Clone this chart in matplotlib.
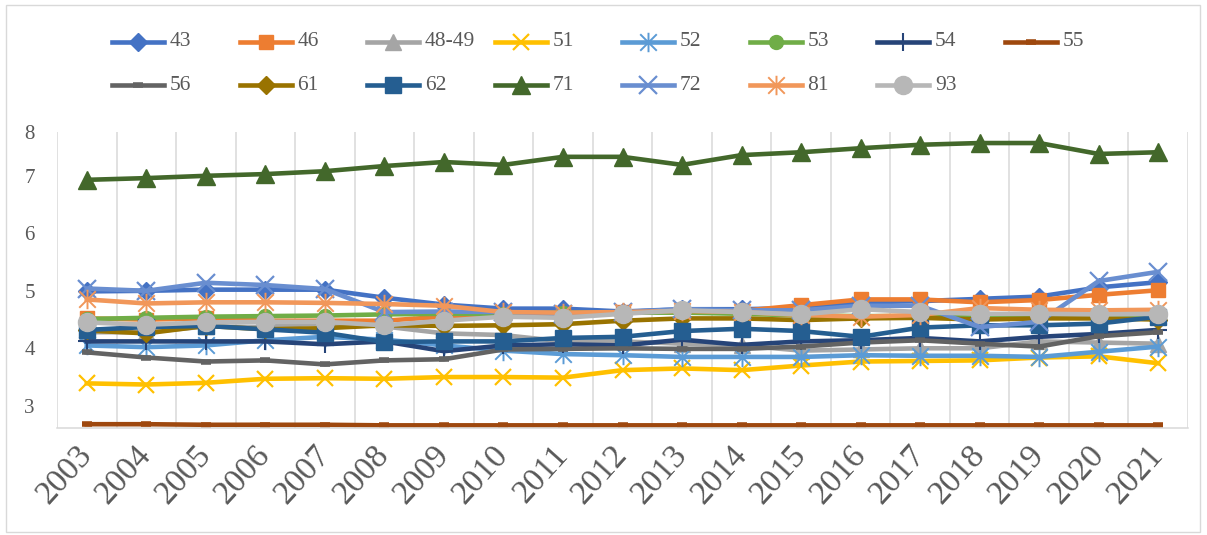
import matplotlib
matplotlib.use("Agg")
import matplotlib.pyplot as plt
from matplotlib.lines import Line2D
from matplotlib.patches import Rectangle
from matplotlib.path import Path

years = list(range(2003, 2022))

s43 = [4.99, 5.00, 5.02, 5.02, 5.02, 4.88, 4.76, 4.69, 4.69, 4.64, 4.68, 4.68, 4.70, 4.80, 4.82, 4.86, 4.90, 5.06, 5.15]
s46 = [4.52, 4.50, 4.52, 4.48, 4.48, 4.48, 4.55, 4.57, 4.60, 4.63, 4.65, 4.65, 4.75, 4.85, 4.85, 4.80, 4.84, 4.93, 5.01]
s48 = [4.28, 4.28, 4.38, 4.37, 4.44, 4.38, 4.26, 4.23, 4.12, 4.12, 4.08, 4.05, 3.96, 3.98, 4.00, 4.00, 4.12, 4.10, 4.08]
s51 = [3.39, 3.37, 3.40, 3.47, 3.48, 3.47, 3.50, 3.50, 3.49, 3.62, 3.65, 3.62, 3.70, 3.77, 3.78, 3.79, 3.84, 3.86, 3.74]
s52 = [4.05, 4.02, 4.05, 4.14, 4.20, 4.15, 4.05, 3.96, 3.90, 3.88, 3.85, 3.85, 3.85, 3.88, 3.87, 3.87, 3.85, 3.94, 4.03]
s53 = [4.51, 4.53, 4.55, 4.56, 4.57, 4.59, 4.60, 4.60, 4.62, 4.62, 4.62, 4.60, 4.57, 4.56, 4.56, 4.55, 4.54, 4.54, 4.56]
s54 = [4.12, 4.12, 4.12, 4.12, 4.07, 4.12, 3.95, 4.05, 4.07, 4.05, 4.15, 4.06, 4.12, 4.14, 4.18, 4.12, 4.20, 4.25, 4.32]
s55 = [2.68, 2.68, 2.67, 2.67, 2.67, 2.66, 2.66, 2.66, 2.66, 2.66, 2.66, 2.66, 2.66, 2.66, 2.66, 2.66, 2.66, 2.66, 2.66]
s56 = [3.93, 3.84, 3.77, 3.79, 3.72, 3.79, 3.81, 3.98, 3.99, 4.00, 3.99, 3.99, 4.03, 4.10, 4.14, 4.08, 4.03, 4.21, 4.28]
s61 = [4.31, 4.26, 4.39, 4.33, 4.35, 4.40, 4.39, 4.40, 4.42, 4.48, 4.52, 4.52, 4.49, 4.52, 4.53, 4.50, 4.52, 4.52, 4.50]
s62 = [4.32, 4.37, 4.39, 4.33, 4.27, 4.11, 4.12, 4.12, 4.18, 4.20, 4.30, 4.34, 4.30, 4.20, 4.36, 4.40, 4.40, 4.43, 4.55]
s71 = [6.93, 6.96, 7.00, 7.03, 7.08, 7.17, 7.24, 7.19, 7.33, 7.33, 7.19, 7.36, 7.41, 7.48, 7.54, 7.57, 7.57, 7.38, 7.41]
s72 = [5.04, 5.00, 5.14, 5.10, 5.03, 4.63, 4.64, 4.63, 4.60, 4.63, 4.68, 4.66, 4.66, 4.74, 4.74, 4.37, 4.46, 5.17, 5.33]
s81 = [4.85, 4.78, 4.80, 4.80, 4.79, 4.77, 4.74, 4.63, 4.62, 4.63, 4.65, 4.63, 4.58, 4.55, 4.58, 4.70, 4.67, 4.66, 4.67]
s93 = [4.45, 4.41, 4.45, 4.46, 4.46, 4.40, 4.48, 4.55, 4.53, 4.60, 4.66, 4.63, 4.59, 4.68, 4.63, 4.60, 4.60, 4.59, 4.60]

names = ["43", "46", "48-49", "51", "52", "53", "54", "55",
         "56", "61", "62", "71", "72", "81", "93"]
values = [s43, s46, s48, s51, s52, s53, s54, s55,
          s56, s61, s62, s71, s72, s81, s93]

# excel style asterisk: an x with a vertical bar
ast = Path([(-0.85, -0.85), (0.85, 0.85), (-0.85, 0.85), (0.85, -0.85),
            (0, -1), (0, 1)],
           [Path.MOVETO, Path.LINETO] * 3)

# colour, marker, marker size, marker edge width
styles = [
    ("#4472C4", "D", 9, 1),
    ("#ED7D31", "s", 10, 1),
    ("#A5A5A5", "^", 12, 1),
    ("#FFC000", "x", 12, 1.6),
    ("#5B9BD5", ast, 14, 1.4),
    ("#70AD47", "o", 10, 1),
    ("#264478", "+", 13, 1.5),
    ("#9E480E", "_", 7, 4),
    ("#636363", "_", 7, 4),
    ("#997300", "D", 9, 1),
    ("#255E91", "s", 11, 1),
    ("#43682B", "^", 13, 1),
    ("#698ED0", "x", 13, 1.6),
    ("#F1975A", ast, 14, 1.4),
    ("#B7B7B7", "o", 13, 1),
]

W, H = 1207, 535
txt = "#595959"
serif = "Liberation Serif"

fig = plt.figure(figsize=(W / 100, H / 100), dpi=100)
ax = fig.add_axes([57 / W, 1 - 428 / H, (1188 - 57) / W, (428 - 132) / H])

x = list(range(len(years)))
for name, vals, (c, m, ms, mew) in zip(names, values, styles):
    ax.plot(x, vals, color=c, lw=3.3, marker=m, markersize=ms,
            markeredgewidth=mew, markerfacecolor=c, markeredgecolor=c,
            solid_joinstyle="round")

ax.set_xlim(-0.5, len(years) - 0.5)
ax.set_ylim(2.614, 7.762)
ax.set_xticks(x)
ax.set_xticklabels([str(y) for y in years], rotation=48, ha="right",
                   va="center", rotation_mode="anchor",
                   fontsize=24, family=serif, color=txt)
ax.set_xticks([i - 0.5 for i in range(len(years) + 1)], minor=True)
ax.set_yticks([3, 4, 5, 6, 7, 7.762])
ax.set_yticklabels(["3", "4", "5", "6", "7", "8"], fontsize=15,
                   family=serif, color=txt)
ax.tick_params(axis="x", which="major", length=0, pad=16)
ax.tick_params(axis="x", which="minor", length=0)
ax.tick_params(axis="y", length=0, pad=16)
ax.grid(True, axis="x", which="minor", color="#d9d9d9", lw=1.1)
ax.set_axisbelow(True)
for s in ["top", "right", "left"]:
    ax.spines[s].set_visible(False)
ax.spines["bottom"].set_color("#d9d9d9")
ax.spines["bottom"].set_linewidth(1.1)

# legend laid out like excel: 8 equal columns, 2 rows
for i, (name, (c, m, ms, mew)) in enumerate(zip(names, styles)):
    col, row = i % 8, i // 8
    x0 = 112 + col * 127.5
    yy = 1 - (42 + row * 43) / H
    xs = [x0 / W, (x0 + 26) / W, (x0 + 52) / W]
    fig.add_artist(Line2D(xs, [yy] * 3, transform=fig.transFigure, color=c,
                          lw=3.3, marker=m, markersize=ms, markevery=[1],
                          markeredgewidth=mew, markerfacecolor=c,
                          markeredgecolor=c))
    fig.text((x0 + 58) / W, yy, name, fontsize=15.5, family=serif, color=txt,
             va="center", ha="left")

fig.add_artist(Rectangle((6 / W, 3 / H), (1200 - 6) / W, (530 - 3) / H,
                         transform=fig.transFigure, fill=False,
                         ec="#d9d9d9", lw=1))

fig.savefig("out.png", dpi=100)
